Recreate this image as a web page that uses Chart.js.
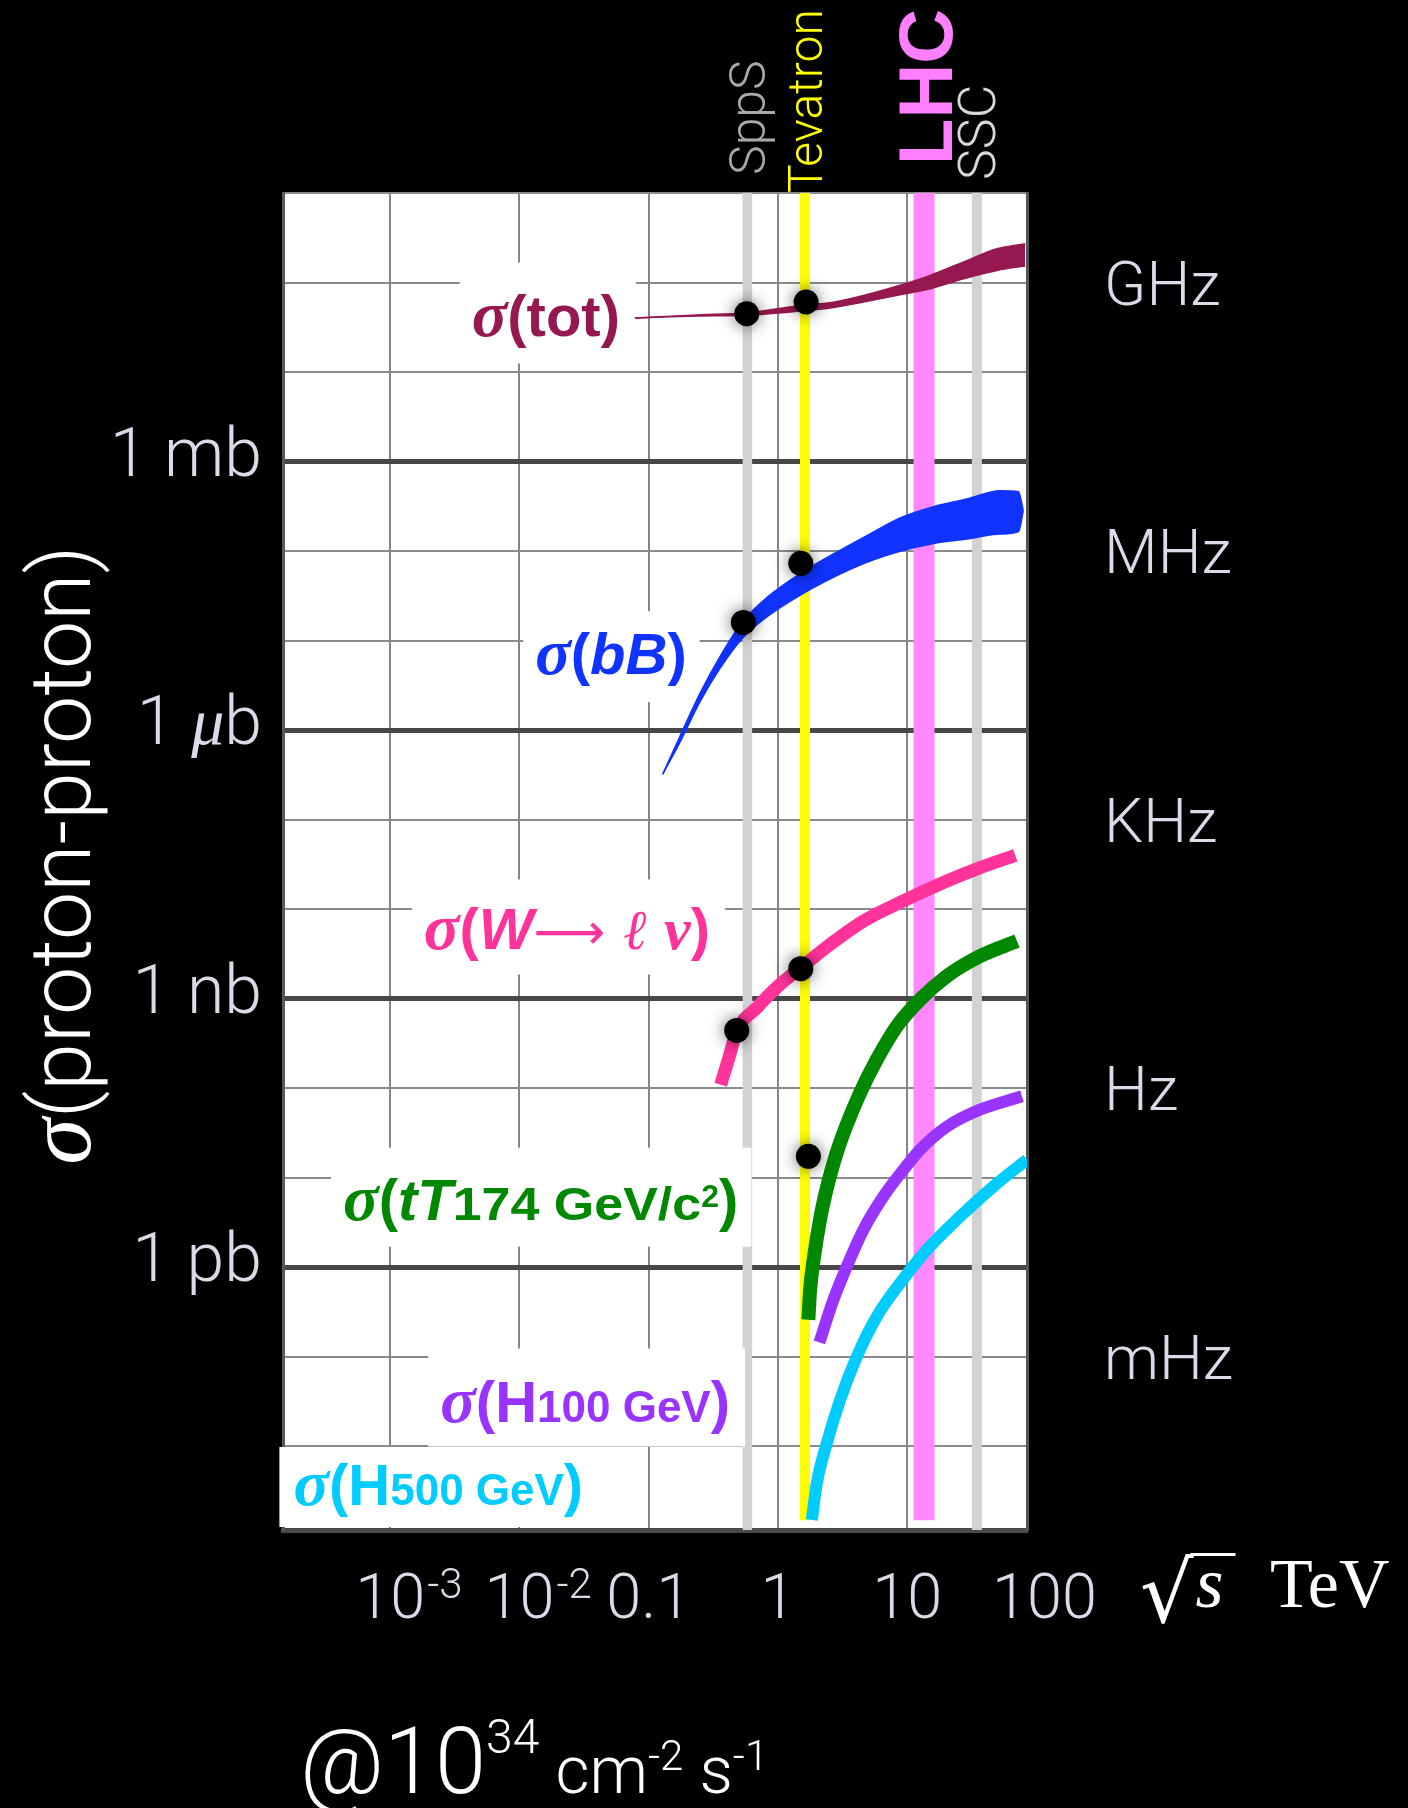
<!DOCTYPE html>
<html>
<head>
<meta charset="utf-8">
<script src="https://cdn.jsdelivr.net/npm/chart.js@4.4.1/dist/chart.umd.min.js"></script>
<style>
html,body{margin:0;padding:0;background:#000;}
#wrap{width:1408px;height:1808px;position:relative;}
</style>
</head>
<body>
<div id="wrap"><canvas id="c" width="1408" height="1808"></canvas></div>
<script>
// ---------------- DATA ----------------
// axis ranges (log10 exponents): x in TeV, y in mb
const xRangeExp = [-3.830, 1.927];
const yRangeExp = [-11.933, 3];

const xTickValues = [1e-3, 1e-2, 0.1, 1, 10, 100];
const xTickBase   = ['10', '10', '0.1', '1', '10', '100'];
const xTickSup    = ['-3', '-2', '', '', '', ''];

const yGridExponents = [-11, -10, -9, -8, -7, -6, -5, -4, -3, -2, -1, 0, 1, 2, 3];
const yTickValues = [1, 1e-3, 1e-6, 1e-9];
const yTickLabels = ['1 mb', '1 μb', '1 nb', '1 pb'];

const rateTickValues = [100, 0.1, 1e-4, 1e-7, 1e-10];
const rateTickLabels = ['GHz', 'MHz', 'KHz', 'Hz', 'mHz'];

// collider energies (TeV)
const colliderNames    = ['SppS', 'Tevatron', 'LHC', 'SSC'];
const colliderEnergies = [0.58, 1.62, 13.5, 34.6];
const colliderLowEnd   = [null, 1.5e-12, 1.5e-12, null];

// sigma(tot) band (mb)
const totE     = [0.0782, 0.235, 0.573, 1.651, 2.532, 4.585, 9.643, 15.06, 27.28, 49.47, 81.9];
const totUpper = [40.1, 43.4, 46.0, 56.5, 59.5, 71.8, 97.0, 120.1, 169.6, 238.8, 271.6];
const totLower = [40.1, 42.2, 43.1, 48.8, 51.9, 60.6, 75.0, 85.3, 110.3, 136.6, 153.0];

// sigma(bB) band (mb)
const bbE     = [0.1282, 0.1745, 0.2493, 0.3561, 0.5397, 0.8190, 1.502, 2.685, 4.872, 8.821, 15.97, 28.97, 52.48, 72.7, 79.1];
const bbUpper = [3.22e-4, 8.57e-4, 2.58e-3, 6.64e-3, 0.0167, 0.0302, 0.0567, 0.0929, 0.149, 0.235, 0.314, 0.383, 0.474, 0.462, 0.283];
const bbLower = [3.22e-4, 7.35e-4, 2.08e-3, 4.91e-3, 0.0109, 0.0184, 0.0325, 0.0510, 0.0750, 0.0996, 0.122, 0.137, 0.155, 0.165, 0.283];

// sigma(W -> l nu) (mb)
const wE     = [0.3606, 0.4204, 0.4797, 0.6851, 1.038, 1.502, 2.532, 4.585, 9.355, 20.28, 36.73, 68.55];
const wSigma = [1.10e-7, 2.28e-7, 4.35e-7, 7.94e-7, 1.45e-6, 2.22e-6, 4.05e-6, 7.38e-6, 1.24e-5, 2.07e-5, 2.92e-5, 4.00e-5];

// sigma(tT) (mb)
const ttE     = [1.719, 1.773, 1.887, 2.138, 2.443, 2.818, 3.368, 4.322, 5.823, 8.318, 12.60, 20.28, 36.73, 70.7];
const ttSigma = [2.60e-10, 5.62e-10, 1.22e-9, 3.71e-9, 8.77e-9, 1.82e-8, 3.77e-8, 8.90e-8, 2.10e-7, 4.94e-7, 9.83e-7, 1.79e-6, 3.00e-6, 4.41e-6];

// sigma(H 100 GeV) (mb)
const h100E     = [2.092, 2.685, 3.410, 4.585, 6.550, 9.355, 12.60, 20.28, 36.73, 77.3];
const h100Sigma = [1.45e-10, 4.35e-10, 1.025e-9, 2.64e-9, 6.21e-9, 1.235e-8, 2.07e-8, 3.74e-8, 5.79e-8, 8.15e-8];

// sigma(H 500 GeV) (mb)
const h500E     = [1.827, 1.997, 2.387, 3.026, 4.076, 5.823, 8.821, 14.20, 25.71, 46.56, 84.5];
const h500Sigma = [1.51e-12, 3.88e-12, 1.087e-11, 3.31e-11, 1.01e-10, 2.83e-10, 6.68e-10, 1.576e-9, 3.71e-9, 8.04e-9, 1.60e-8];

// measured points (black dots)
const dotE     = [0.573, 1.651, 0.5397, 1.502, 0.4797, 1.502, 1.719];
const dotSigma = [44.8, 60.6, 0.0160, 0.0731, 4.43e-7, 2.17e-6, 1.74e-8];

// curve label anchors (right edge of text, baseline) in data units
const labelNames  = ['tot', 'bB', 'W', 'tT', 'H100', 'H500'];
const labelE      = [0.0599, 0.1967, 0.298, 0.4935, 0.4256, 0.0311];
const labelSigma  = [25.6, 4.23e-3, 3.56e-6, 3.41e-9, 1.90e-11, 2.22e-12];

// ---------------- STYLE ----------------
const PLOT = {left: 283, top: 193, right: 1027, bottom: 1530};
const C = {tot: '#961850', bb: '#1133ff', w: '#ff3399', tt: '#008800', h100: '#9933ff', h500: '#00ccff'};
const colliderColors = ['#d2d2d2', '#ffff00', '#ff88ff', '#d2d2d2'];
const colliderWidths = [9.5, 10, 21, 10];
const colliderTextColors = ['#a9a9a9', '#ffff00', '#ff80ff', '#d8d8d8'];
const LIGHT = '"Roboto", "Helvetica Neue", "Liberation Sans", sans-serif';
const BOLD = '"Liberation Sans", Arial, sans-serif';
const SERIF = '"Liberation Serif", "DejaVu Serif", serif';
const colliderFonts = ['300 50px ' + LIGHT, '300 48px ' + LIGHT, 'bold 76px ' + BOLD, '300 52px ' + LIGHT];
const colliderCap = [36, 34, 55, 37];
const colliderLift = [-18, 0, -28, -13];

const F = {
  sig: 'italic bold 66px ' + SERIF,
  b: 'bold 58px ' + BOLD,
  bi: 'italic bold 58px ' + BOLD,
  sub: 'bold 44px ' + BOLD,
  sub2: 'bold 46px ' + BOLD,
  sup: 'bold 32px ' + BOLD,
  arrow: '50px "DejaVu Sans", sans-serif',
  ell: 'italic 56px "DejaVu Serif", serif',
  nu: 'italic bold 60px ' + SERIF
};
const stretch = {sub2: 1.13};
const labelParts = {
  tot: [['σ', 'sig'], ['(tot)', 'b']],
  bB: [['σ', 'sig'], ['(', 'b'], ['bB', 'bi'], [')', 'b']],
  W: [['σ', 'sig'], ['(', 'b'], ['W', 'bi'], ['⟶', 'arrow'], [' ℓ ', 'ell'], ['ν', 'nu'], [')', 'b']],
  tT: [['σ', 'sig'], ['(', 'b'], ['tT', 'bi'], ['174 GeV/c', 'sub2'], ['2', 'sup'], [')', 'b']],
  H100: [['σ', 'sig'], ['(', 'b'], ['H', 'b'], ['100 GeV', 'sub'], [')', 'b']],
  H500: [['σ', 'sig'], ['(', 'b'], ['H', 'b'], ['500 GeV', 'sub'], [')', 'b']]
};
const labelColors = {tot: C.tot, bB: C.bb, W: C.w, tT: C.tt, H100: C.h100, H500: C.h500};
// white box padding: left, right, above baseline, below baseline
const labelPad = {tot: [12, 16, 73, 28], bB: [12, 13, 63, 28], W: [12, 15, 70, 25], tT: [12, 13, 72, 27], H100: [12, 15, 73, 25], H500: [14, 15, 58, 22]};

// ---------------- HELPERS ----------------
const pts = (xs, ys) => xs.map((x, i) => ({x: x, y: ys[i]}));
const X_MIN = Math.pow(10, xRangeExp[0]), X_MAX = Math.pow(10, xRangeExp[1]);
const Y_MIN = Math.pow(10, yRangeExp[0]), Y_MAX = Math.pow(10, yRangeExp[1]);
const isMajor = v => yTickValues.some(m => Math.abs(Math.log10(v) - Math.log10(m)) < 1e-6);

function measureParts(ctx, parts) {
  let total = 0;
  parts.forEach(p => { ctx.font = p.font; p._w = ctx.measureText(p.t).width * (p.sx || 1); total += p._w; });
  return total;
}
function drawParts(ctx, parts, x, y, align) {
  const total = measureParts(ctx, parts);
  let cx = align === 'right' ? x - total : (align === 'center' ? x - total / 2 : x);
  const left = cx;
  parts.forEach(p => {
    ctx.font = p.font; ctx.fillStyle = p.color;
    if (p.sx && p.sx !== 1) {
      ctx.save(); ctx.translate(cx, y + (p.dy || 0)); ctx.scale(p.sx, 1); ctx.fillText(p.t, 0, 0); ctx.restore();
    } else {
      ctx.fillText(p.t, cx, y + (p.dy || 0));
    }
    cx += p._w;
  });
  return {left: left, width: total};
}

// ---------------- DATASETS ----------------
const datasets = [];
colliderNames.forEach((n, i) => {
  datasets.push({
    label: n, data: [{x: colliderEnergies[i], y: Y_MAX}, {x: colliderEnergies[i], y: colliderLowEnd[i] || Y_MIN}],
    borderColor: colliderColors[i], borderWidth: colliderWidths[i], borderCapStyle: 'butt',
    pointRadius: 0, fill: false, tension: 0, order: 13 - i
  });
});
const LAST_BAND = colliderNames.length - 1;
function band(label, xs, up, lo, color) {
  datasets.push({label: label + ' upper', data: pts(xs, up), borderColor: color, borderWidth: 1.5, pointRadius: 0, fill: false, cubicInterpolationMode: 'monotone', order: 5});
  datasets.push({label: label + ' lower', data: pts(xs, lo), borderColor: color, backgroundColor: color, borderWidth: 1.5, pointRadius: 0, fill: '-1', cubicInterpolationMode: 'monotone', order: 5});
}
band('σ(tot)', totE, totUpper, totLower, C.tot);
band('σ(bB)', bbE, bbUpper, bbLower, C.bb);
function curve(label, xs, ys, color, w) {
  datasets.push({label: label, data: pts(xs, ys), borderColor: color, borderWidth: w, borderCapStyle: 'butt', pointRadius: 0, fill: false, cubicInterpolationMode: 'monotone', order: 4});
}
curve('σ(W→ℓν)', wE, wSigma, C.w, 13);
curve('σ(tT)', ttE, ttSigma, C.tt, 14);
curve('σ(H 100 GeV)', h100E, h100Sigma, C.h100, 12);
curve('σ(H 500 GeV)', h500E, h500Sigma, C.h500, 12);
const DOTS = datasets.length;
datasets.push({label: 'measured', data: pts(dotE, dotSigma), showLine: false, pointRadius: 12.5, pointHoverRadius: 12.5,
  pointBackgroundColor: '#000', pointBorderWidth: 0, order: 1});

// ---------------- PLUGIN ----------------
const decor = {
  id: 'decor',
  beforeDraw(chart) {
    const {ctx, chartArea: a} = chart;
    ctx.save();
    ctx.fillStyle = '#000'; ctx.fillRect(0, 0, chart.width, chart.height);
    ctx.fillStyle = '#fff'; ctx.fillRect(a.left, a.top, a.right - a.left, a.bottom - a.top);
    ctx.restore();
  },
  beforeDatasetDraw(chart, args) {
    if (args.index === DOTS) {
      const ctx = chart.ctx; ctx.save();
      ctx.shadowColor = 'rgba(0,0,0,0.6)'; ctx.shadowBlur = 16;
    }
  },
  afterDatasetDraw(chart, args) {
    const ctx = chart.ctx;
    if (args.index === DOTS) { ctx.restore(); return; }
    if (args.index !== LAST_BAND) return;
    const xs = chart.scales.x, ys = chart.scales.y;
    ctx.save();
    ctx.textBaseline = 'alphabetic'; ctx.textAlign = 'left';
    labelNames.forEach((n, i) => {
      const x = xs.getPixelForValue(labelE[i]), y = ys.getPixelForValue(labelSigma[i]);
      const parts = labelParts[n].map(([t, k]) => ({t: t, font: F[k], color: labelColors[n], dy: k === 'sup' ? -13 : 0, sx: stretch[k] || 1}));
      const total = measureParts(ctx, parts);
      const pad = labelPad[n];
      ctx.fillStyle = '#fff';
      ctx.fillRect(x - total - pad[0], y - pad[2], total + pad[0] + pad[1], pad[2] + pad[3]);
      drawParts(ctx, parts, x, y, 'right');
    });
    ctx.restore();
  },
  afterDraw(chart) {
    const {ctx, chartArea: a} = chart;
    const xs = chart.scales.x, ys = chart.scales.y, y2 = chart.scales.y2;
    ctx.save();
    ctx.textBaseline = 'alphabetic';
    ctx.textAlign = 'left';
    // y tick labels
    yTickValues.forEach((v, i) => {
      const py = ys.getPixelForValue(v) + 14;
      const lab = yTickLabels[i];
      let parts;
      if (lab.indexOf('μ') >= 0) {
        parts = [{t: '1 ', font: '300 68px ' + LIGHT}, {t: 'μ', font: 'italic 66px ' + SERIF}, {t: 'b', font: '300 68px ' + LIGHT}];
      } else {
        parts = [{t: lab, font: '300 68px ' + LIGHT}];
      }
      parts.forEach(p => p.color = '#dcdae8');
      drawParts(ctx, parts, a.left - 21, py, 'right');
    });
    // rate labels (right axis)
    rateTickValues.forEach((v, i) => {
      const py = y2.getPixelForValue(v) + 22;
      drawParts(ctx, [{t: rateTickLabels[i], font: '300 62px ' + LIGHT, color: '#dcdae8'}], a.right + 77, py, 'left');
    });
    // x tick labels
    xTickValues.forEach((v, i) => {
      const px = xs.getPixelForValue(v);
      ctx.font = '300 63px ' + LIGHT;
      const w = ctx.measureText(xTickBase[i]).width;
      const left = px - w / 2 + (i === xTickValues.length - 1 ? 8 : 0);
      ctx.fillStyle = '#dcdae8';
      ctx.fillText(xTickBase[i], left, 1618);
      if (xTickSup[i]) { ctx.font = '300 42px ' + LIGHT; ctx.fillText(xTickSup[i], left + w + 2, 1598); }
    });
    // sqrt(s) TeV
    ctx.fillStyle = '#ffffff';
    ctx.font = '84px "DejaVu Serif", serif';
    const m = ctx.measureText('√');
    const rootW = m.width;
    const rootBase = 1622;
    ctx.fillText('√', 1140, rootBase);
    ctx.font = 'italic 72px ' + SERIF;
    const sW = ctx.measureText('s').width;
    ctx.fillText('s', 1140 + rootW + 2, 1607);
    ctx.strokeStyle = '#ffffff'; ctx.lineWidth = 3;
    const topY = rootBase - m.actualBoundingBoxAscent + 1.5;
    ctx.beginPath(); ctx.moveTo(1140 + rootW - 3, topY); ctx.lineTo(1140 + rootW + sW + 14, topY); ctx.stroke();
    ctx.font = '70px ' + SERIF;
    ctx.fillText('TeV', 1270, 1607);
    // luminosity note
    drawParts(ctx, [
      {t: '@10', font: '300 92px ' + LIGHT, color: '#fff'},
      {t: '34', font: '300 48px ' + LIGHT, color: '#fff', dy: -40},
      {t: ' cm', font: '300 66px ' + LIGHT, color: '#fff'},
      {t: '-2', font: '300 42px ' + LIGHT, color: '#fff', dy: -23},
      {t: ' s', font: '300 66px ' + LIGHT, color: '#fff'},
      {t: '-1', font: '300 42px ' + LIGHT, color: '#fff', dy: -23}
    ], 300, 1793, 'left');
    // y title (rotated)
    ctx.save();
    ctx.translate(90, 855);
    ctx.rotate(-Math.PI / 2);
    drawParts(ctx, [
      {t: 'σ', font: 'italic 94px ' + SERIF, color: '#fff'},
      {t: '(proton-proton)', font: '300 86px ' + LIGHT, color: '#fff'}
    ], 0, 0, 'center');
    ctx.restore();
    // collider names (rotated)
    colliderNames.forEach((n, i) => {
      const px = xs.getPixelForValue(colliderEnergies[i]);
      ctx.save();
      ctx.translate(px + colliderCap[i] / 2, a.top + colliderLift[i]);
      ctx.rotate(-Math.PI / 2);
      ctx.font = colliderFonts[i]; ctx.fillStyle = colliderTextColors[i]; ctx.textAlign = 'left';
      ctx.fillText(n, 0, 0);
      ctx.restore();
    });
    ctx.restore();
  }
};

// ---------------- CHART ----------------
new Chart(document.getElementById('c'), {
  type: 'line',
  data: {datasets: datasets},
  plugins: [decor],
  options: {
    responsive: false, animation: false, devicePixelRatio: 1, events: [],
    layout: {padding: {top: PLOT.top, left: 0, right: 0, bottom: 0}},
    plugins: {legend: {display: false}, tooltip: {enabled: false}},
    scales: {
      x: {
        type: 'logarithmic', position: 'bottom', min: X_MIN, max: X_MAX,
        afterBuildTicks: s => { s.ticks = xTickValues.filter(v => v >= s.min && v <= s.max).map(v => ({value: v})); },
        afterFit: s => { s.height = 1808 - PLOT.bottom; },
        ticks: {display: false},
        grid: {drawTicks: false, color: '#858585', lineWidth: 2},
        border: {display: true, color: '#4a4a4a', width: 5}
      },
      y: {
        type: 'logarithmic', position: 'left', min: Y_MIN, max: Y_MAX,
        afterBuildTicks: s => { s.ticks = yGridExponents.map(e => ({value: Math.pow(10, e)})); },
        afterFit: s => { s.width = PLOT.left; },
        ticks: {display: false},
        grid: {
          drawTicks: false,
          color: c => (c.tick && isMajor(c.tick.value)) ? '#474747' : '#8a8a8a',
          lineWidth: c => (c.tick && isMajor(c.tick.value)) ? 5 : 2
        },
        border: {display: true, color: '#5a5a5a', width: 3}
      },
      y2: {
        type: 'logarithmic', position: 'right', min: Y_MIN, max: Y_MAX,
        afterFit: s => { s.width = 1408 - PLOT.right; },
        ticks: {display: false},
        grid: {display: false, drawTicks: false},
        border: {display: true, color: '#555555', width: 3}
      }
    }
  }
});
</script>
</body>
</html>
